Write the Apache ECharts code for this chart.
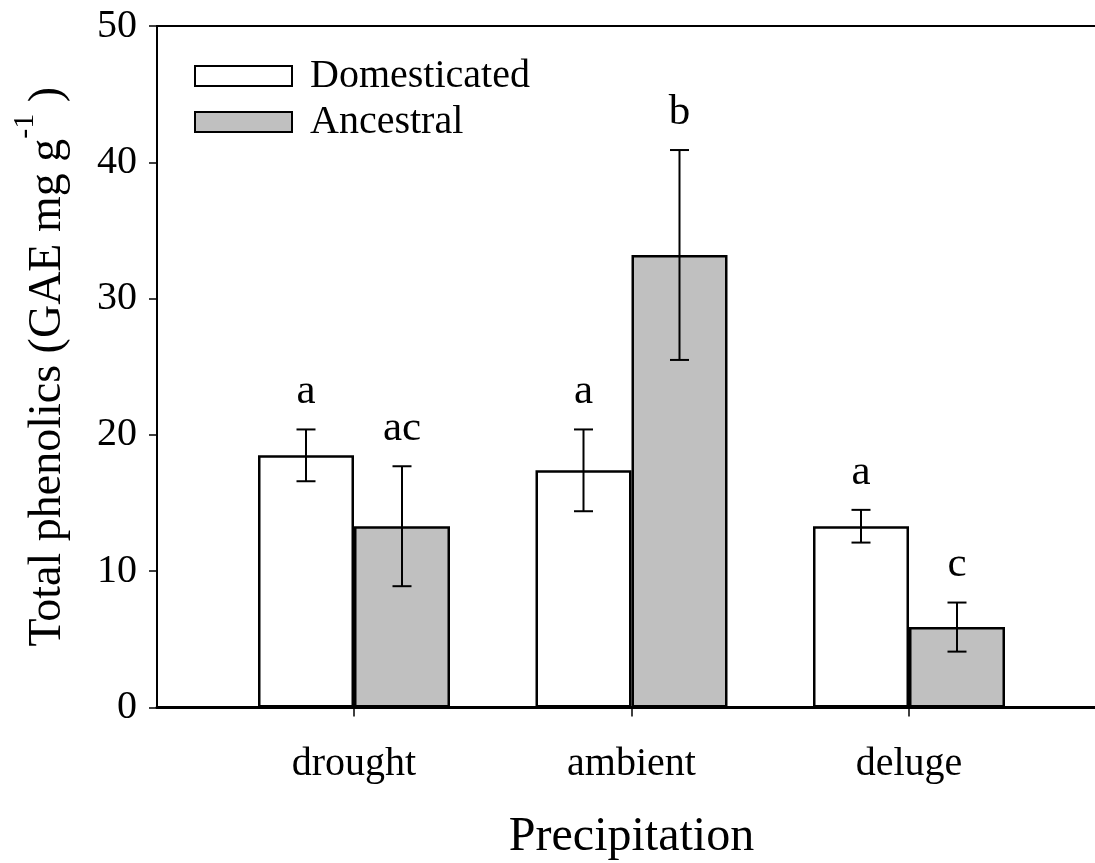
<!DOCTYPE html>
<html>
<head>
<meta charset="utf-8">
<script src="https://cdn.jsdelivr.net/npm/echarts@6/dist/echarts.min.js"></script>
<style>
  html, body { margin: 0; padding: 0; background: #fff; }
  #chart { width: 1095px; height: 863px; }
</style>
</head>
<body>
<div id="chart"></div>
<script>
// values
const categories = ['drought', 'ambient', 'deluge'];
const domesticated = [18.5, 17.4, 13.3];
const domesticatedErr = [1.9, 3.0, 1.2];
const ancestral = [13.3, 33.2, 5.9];
const ancestralErr = [4.4, 7.7, 1.8];
const domesticatedLetters = ['a', 'a', 'a'];
const ancestralLetters = ['ac', 'b', 'c'];
const yMin = 0, yMax = 50, yStep = 10;

const FONT = '"Liberation Serif", "Times New Roman", serif';
const BAR_W = 96;

// error bar + letter, shifted left/right of the category centre
function errorBars(letters, shift) {
  return function (params, api) {
    const i = api.value(0);
    const mean = api.value(1);
    const err = api.value(2);
    const x = api.coord([i, mean])[0] + shift;
    const top = api.coord([i, mean + err])[1];
    const bottom = api.coord([i, mean - err])[1];
    const cap = 9.5;
    const line = { stroke: '#000', lineWidth: 2 };
    return {
      type: 'group',
      children: [
        { type: 'line', shape: { x1: x, y1: top, x2: x, y2: bottom }, style: line },
        { type: 'line', shape: { x1: x - cap, y1: top, x2: x + cap, y2: top }, style: line },
        { type: 'line', shape: { x1: x - cap, y1: bottom, x2: x + cap, y2: bottom }, style: line },
        {
          type: 'text',
          style: {
            text: letters[params.dataIndex],
            x: x, y: top - 16,
            align: 'center', verticalAlign: 'bottom',
            fontSize: 43, fontFamily: FONT, fill: '#000'
          }
        }
      ]
    };
  };
}

const chart = echarts.init(document.getElementById('chart'));

chart.setOption({
  animation: false,
  backgroundColor: '#fff',
  textStyle: { fontFamily: FONT, color: '#000' },
  legend: {
    orient: 'vertical',
    left: 189,
    top: 48,
    itemWidth: 97,
    itemHeight: 20,
    itemGap: 0,
    icon: 'rect',
    selectedMode: false,
    itemStyle: { borderColor: '#000', borderWidth: 2 },
    textStyle: { fontSize: 40, fontFamily: FONT, color: '#000', lineHeight: 46, padding: [0, 0, 0, 13] },
    data: ['Domesticated', 'Ancestral']
  },
  grid: [
    // frame grid: y axis, bottom line, top line
    { left: 157, top: 26, width: 1000, bottom: 155.5, outerBoundsMode: 'none' },
    // bar grid: categories centred where the figure puts them
    { left: 215.25, top: 26, width: 832.5, bottom: 155.5, outerBoundsMode: 'none' }
  ],
  xAxis: [
    {
      gridIndex: 0, type: 'value', min: 0, max: 1, position: 'bottom',
      axisLine: { show: true, lineStyle: { color: '#000', width: 3 } },
      axisTick: { show: false }, axisLabel: { show: false }, splitLine: { show: false }
    },
    {
      gridIndex: 0, type: 'value', min: 0, max: 1, position: 'top',
      axisLine: { show: true, lineStyle: { color: '#000', width: 2 } },
      axisTick: { show: false }, axisLabel: { show: false }, splitLine: { show: false }
    },
    {
      gridIndex: 1, type: 'category', data: categories,
      axisLine: { show: false },
      axisTick: { show: true, alignWithLabel: true, length: 9, lineStyle: { color: '#000', width: 1.5 } },
      axisLabel: { fontSize: 40, fontFamily: FONT, color: '#000', margin: 37 },
      name: 'Precipitation',
      nameLocation: 'middle',
      nameGap: 106,
      nameTextStyle: { fontSize: 48, fontFamily: FONT, color: '#000' }
    }
  ],
  yAxis: [
    {
      gridIndex: 0, type: 'value', min: yMin, max: yMax, interval: yStep,
      axisLine: { show: true, lineStyle: { color: '#000', width: 2 } },
      axisTick: { show: true, inside: false, length: 8, lineStyle: { color: '#000', width: 1.5 } },
      axisLabel: { fontSize: 40, fontFamily: FONT, color: '#000', margin: 20 },
      splitLine: { show: false },
      name: '{m|Total phenolics (GAE mg g}{sup|-1}{m| )}',
      nameLocation: 'middle',
      nameGap: 86,
      nameTextStyle: {
        fontSize: 46, fontFamily: FONT, color: '#000',
        rich: {
          m: { fontSize: 46, fontFamily: FONT, color: '#000', lineHeight: 52, verticalAlign: 'bottom' },
          sup: { fontSize: 30, fontFamily: FONT, color: '#000', lineHeight: 30, verticalAlign: 'bottom', padding: [0, 0, 31, 0] }
        }
      }
    },
    {
      gridIndex: 1, type: 'value', min: yMin, max: yMax, interval: yStep, show: false
    }
  ],
  series: [
    {
      name: 'Domesticated', type: 'bar', xAxisIndex: 2, yAxisIndex: 1,
      barWidth: BAR_W, barGap: '0%',
      itemStyle: { color: '#ffffff', borderColor: '#000', borderWidth: 2.5 },
      data: domesticated
    },
    {
      name: 'Ancestral', type: 'bar', xAxisIndex: 2, yAxisIndex: 1,
      barWidth: BAR_W, barGap: '0%',
      itemStyle: { color: '#c0c0c0', borderColor: '#000', borderWidth: 2.5 },
      data: ancestral
    },
    {
      type: 'custom', xAxisIndex: 2, yAxisIndex: 1, z: 10, silent: true,
      renderItem: errorBars(domesticatedLetters, -BAR_W / 2),
      data: domesticated.map((v, i) => [i, v, domesticatedErr[i]])
    },
    {
      type: 'custom', xAxisIndex: 2, yAxisIndex: 1, z: 10, silent: true,
      renderItem: errorBars(ancestralLetters, BAR_W / 2),
      data: ancestral.map((v, i) => [i, v, ancestralErr[i]])
    }
  ]
});
</script>
</body>
</html>
